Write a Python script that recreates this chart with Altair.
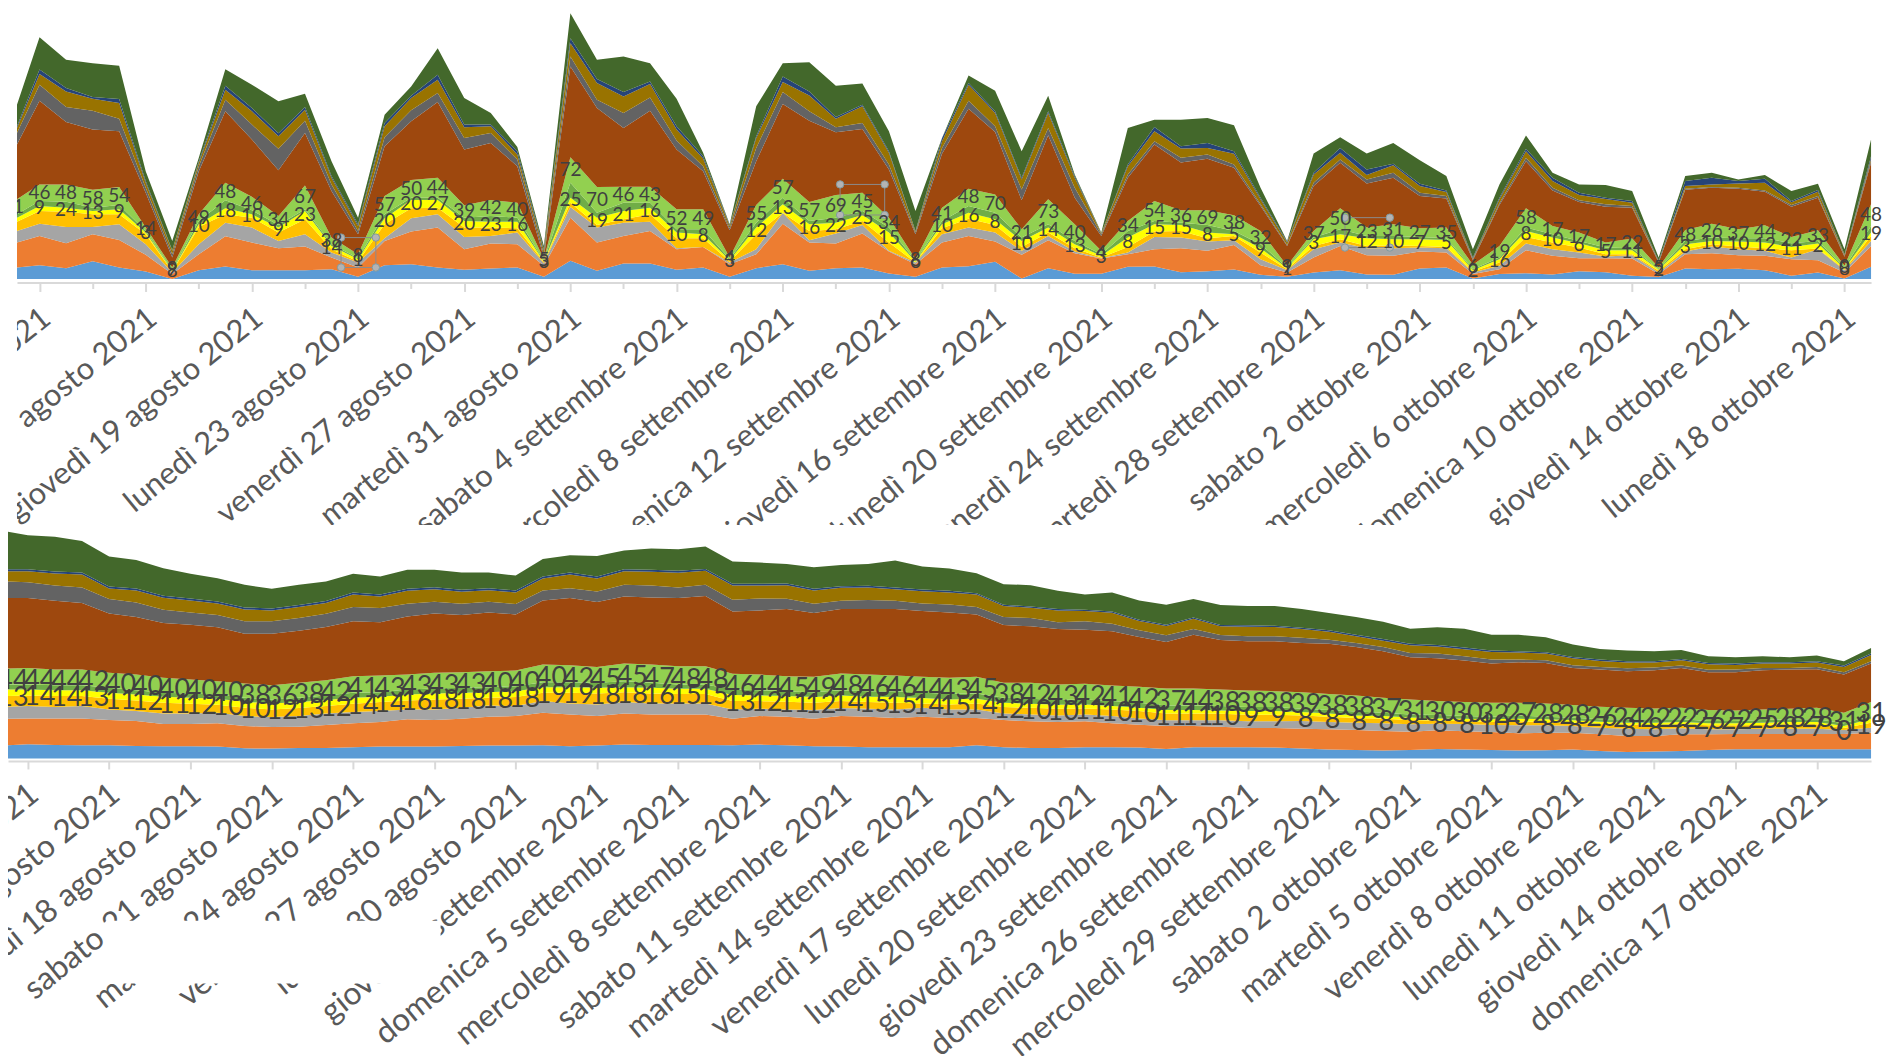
import json
import altair as alt
import pandas as pd

series = ["blue", "orange", "gray", "gold", "yellow", "green", "ltgreen", "brown", "dkgray", "dkgold", "navy", "dkgreen"]
colors = ["#5B9BD5", "#ED7D31", "#A5A5A5", "#FFC000", "#FFFF00", "#70AD47", "#92D050", "#9E480E", "#636363", "#997300", "#264478", "#43682B"]

# ---- upper chart: top edge of every band per day (3 units = 1 px)
top_days = [10.15] + list(range(11, 81))
top_base = 835
T_dkgreen = [310,107,175,185,193,510,720,470,203,250,300,277,480,650,340,255,140,290,335,437,735,35,175,165,
185,292,455,670,315,185,182,253,246,390,630,410,222,268,450,283,520,695,380,355,355,350,372,560,
720,457,408,457,425,477,525,745,550,403,515,550,552,570,770,525,515,535,522,570,548,745,415]
T_navy = [375,204,260,287,293,540,748,480,253,320,396,317,525,670,365,283,220,370,370,450,745,110,233,272,
240,375,465,672,405,225,270,347,310,450,690,410,245,330,530,330,525,697,490,377,435,425,450,590,
722,515,440,505,488,548,568,770,590,443,530,575,590,600,780,540,530,540,533,600,567,760,465]
T_dkgold = [380,218,270,292,305,545,750,485,265,330,405,325,530,675,375,290,235,378,375,460,750,125,245,285,
248,385,472,675,410,242,282,352,315,455,692,420,250,335,535,335,530,698,495,390,442,440,458,595,
725,520,455,522,492,555,573,773,595,450,540,582,594,605,782,555,550,547,545,604,572,762,473]
T_dkgray = [395,250,317,328,352,560,760,495,295,370,443,358,550,690,408,327,275,410,395,475,760,165,295,335,
288,418,495,682,440,272,330,378,365,490,695,440,298,375,565,380,560,700,520,420,470,460,490,610,
732,545,475,535,515,575,585,775,607,470,560,598,610,615,783,563,558,560,568,612,585,765,478]
T_brown = [430,298,362,385,390,575,770,510,330,415,507,395,570,700,435,360,302,445,425,495,770,195,320,380,
328,445,510,688,480,308,358,393,383,505,700,458,322,392,598,402,590,705,530,430,484,473,500,615,
735,555,485,547,530,585,592,778,612,480,568,603,617,620,785,566,560,563,572,617,590,768,485]
T_ltgreen = [595,550,550,566,558,680,800,640,545,587,645,553,710,760,585,537,530,613,597,605,775,468,558,557,
557,625,625,770,612,533,603,582,575,650,775,620,563,580,685,595,670,750,660,600,628,628,643,690,
795,690,622,680,670,682,680,792,735,622,675,695,725,713,800,687,668,685,673,708,688,795,610]
T_green = [640,600,602,620,612,690,808,660,598,628,672,625,730,772,640,590,590,650,645,650,780,545,635,605,
605,685,685,775,665,590,660,650,630,680,780,660,615,635,710,670,720,760,690,660,665,672,690,730,
800,710,685,705,705,708,712,805,770,680,700,720,740,742,805,720,710,712,712,727,720,800,675]
T_yellow = [650,615,620,630,625,695,810,670,622,640,680,630,735,775,652,597,597,660,662,662,782,590,650,630,
620,695,700,778,680,610,670,665,642,695,782,670,635,655,720,680,730,765,710,670,672,695,700,742,
802,715,700,712,715,715,717,808,775,690,710,727,748,748,807,730,720,722,725,738,728,803,695]
T_gold = [662,630,632,640,640,700,812,678,640,650,695,655,745,782,670,622,620,680,680,682,784,605,672,655,
640,712,712,782,700,635,690,685,660,725,785,682,653,672,738,695,742,770,738,692,690,712,705,755,
805,735,715,735,733,735,738,812,785,708,725,740,760,760,810,745,730,737,742,748,743,806,705]
T_gray = [690,668,678,678,670,730,815,730,665,680,720,700,755,785,712,652,640,708,705,695,787,618,680,665,
662,742,738,785,745,636,718,698,672,750,785,700,680,695,750,705,752,772,755,708,710,722,718,775,
808,745,725,742,742,740,742,815,795,728,745,755,767,763,815,752,737,745,750,770,745,808,720]
T_orange = [725,705,727,700,717,762,820,760,706,725,742,737,770,800,720,692,680,745,728,730,795,650,725,705,
690,745,738,790,760,668,725,728,698,752,790,725,705,722,762,718,757,773,760,745,742,750,732,793,
815,770,735,763,765,752,755,820,805,748,765,772,772,773,820,760,757,763,765,775,778,815,735]
T_blue = [800,793,802,781,800,812,835,808,797,808,808,808,805,828,793,790,800,807,803,800,828,780,810,788,
788,807,800,828,802,790,810,802,800,818,828,800,796,783,833,802,819,819,798,797,814,811,806,822,
828,815,808,821,822,803,800,833,820,817,821,811,814,825,829,803,805,804,808,825,815,833,798]
top_upper = [41,46,48,58,54,14,9,49,48,46,34,67,38,8,57,50,44,39,42,40,5,72,70,46,
43,52,49,4,55,57,57,69,45,34,8,41,48,70,21,73,40,4,34,54,36,69,38,32,
9,37,50,23,31,27,35,6,19,58,17,17,17,22,5,48,26,37,44,22,33,0,48]
top_lower = [7,9,24,13,9,3,8,10,18,10,9,23,14,1,20,20,27,20,23,16,3,25,19,21,
16,10,8,3,12,13,16,22,25,15,6,10,16,8,10,14,13,3,8,15,15,8,5,9,
1,3,17,12,10,7,5,2,16,8,10,6,5,11,2,3,10,10,12,11,2,8,19]
top_tick_days = list(range(11, 80, 2))
top_axis_labels = ["mercoledì 11 agosto 2021", "domenica 15 agosto 2021", "giovedì 19 agosto 2021", "lunedì 23 agosto 2021",
    "venerdì 27 agosto 2021", "martedì 31 agosto 2021", "sabato 4 settembre 2021", "mercoledì 8 settembre 2021",
    "domenica 12 settembre 2021", "giovedì 16 settembre 2021", "lunedì 20 settembre 2021", "venerdì 24 settembre 2021",
    "martedì 28 settembre 2021", "sabato 2 ottobre 2021", "mercoledì 6 ottobre 2021", "domenica 10 ottobre 2021",
    "giovedì 14 ottobre 2021", "lunedì 18 ottobre 2021"]

# Excel selection frames left in the picture: day from, day to, level from, level to
frames = [(22.36, 23.67, 35, 125), (41.16, 42.84, 193, 285), (60.18, 61.87, 95, 185)]

# ---- lower chart
bot_days = [11.27] + list(range(12, 81))
bot_base = 718
B_dkgreen = [35,46,50,63,110,120,145,162,175,195,207,195,185,162,170,150,150,158,158,167,117,106,108,92,
86,88,80,125,128,132,142,135,132,122,140,146,160,193,196,213,224,218,242,255,238,256,259,
259,268,280,292,306,327,323,327,345,345,353,375,388,393,395,391,410,413,410,413,408,425,385]
B_navy = [148,148,155,158,200,206,228,236,245,263,266,256,244,218,224,207,202,210,205,212,170,158,170,148,
150,153,147,192,192,191,207,199,198,203,209,213,220,255,260,268,270,275,300,315,293,316,317,
318,324,332,345,358,372,376,384,393,395,398,412,420,425,425,418,430,432,428,428,425,438,402]
B_dkgold = [154,154,161,164,206,212,234,242,251,269,272,262,250,224,230,213,208,216,211,218,176,164,176,154,
156,159,153,197,197,196,212,204,203,208,214,218,224,259,264,272,274,279,304,319,297,320,321,
322,328,336,350,363,377,381,389,397,399,402,416,424,429,429,422,434,436,432,432,429,442,406]
B_dkgray = [185,187,197,203,238,248,270,278,286,305,305,295,282,262,265,252,246,252,246,253,212,205,215,195,
197,203,195,240,236,237,252,243,241,243,251,254,262,292,295,308,305,312,332,347,328,346,350,
350,354,360,370,382,400,402,410,420,420,422,437,442,446,444,438,451,450,445,445,442,458,425]
B_brown = [235,235,243,250,281,292,310,315,323,342,342,333,322,305,308,290,281,286,278,284,242,235,247,230,
233,235,229,275,272,268,280,268,268,268,274,278,284,316,320,328,330,335,352,367,345,361,365,
365,370,372,382,395,413,416,423,432,428,430,445,450,455,452,445,458,458,452,450,449,465,432]
B_ltgreen = [447,445,450,450,460,465,475,480,485,492,497,490,482,470,468,465,460,458,455,453,435,437,442,432,
435,440,440,463,465,470,472,462,465,468,472,475,472,490,490,495,493,498,502,507,507,510,513,
515,518,524,528,535,540,545,548,550,550,552,557,562,565,567,565,572,573,570,568,565,580,548]
B_green = [495,495,497,497,505,512,520,522,525,535,540,535,528,520,518,510,507,505,503,500,488,488,490,485,
490,495,495,510,512,516,518,512,515,515,520,523,522,535,538,542,540,545,550,558,558,560,563,
563,568,572,576,580,585,587,590,592,588,592,595,600,600,600,600,605,605,602,600,600,612,590]
B_yellow = [510,510,512,512,520,525,532,535,538,547,552,548,542,535,532,525,522,520,518,515,503,503,505,503,
505,508,508,527,528,530,533,528,532,533,536,540,538,550,553,556,555,560,565,572,572,573,575,
575,578,582,588,590,594,597,598,600,598,600,603,607,610,610,608,612,612,610,608,608,620,598]
B_gold = [530,528,530,530,538,543,550,553,556,565,570,566,560,553,548,543,540,538,535,533,520,520,522,518,
522,524,524,545,545,547,550,545,548,550,552,555,552,563,565,568,567,570,575,582,582,583,586,
586,588,592,596,598,602,604,605,608,606,608,610,614,616,617,615,618,618,617,615,615,626,610]
B_gray = [562,560,563,560,570,575,582,582,580,590,593,590,582,578,575,570,570,565,558,560,545,552,555,548,
552,552,552,570,568,570,572,566,568,570,565,570,570,582,585,588,585,590,597,603,603,603,606,
606,605,608,610,612,615,613,614,617,618,618,620,625,628,630,627,630,630,628,628,628,632,625]
B_orange = [598,597,597,597,602,605,614,614,612,620,623,622,617,612,608,600,602,598,592,590,580,585,590,582,
585,585,585,598,590,592,598,590,592,596,592,596,596,602,606,608,606,612,616,620,620,622,626,
626,628,630,632,635,637,633,636,638,642,640,640,645,650,650,645,645,644,644,644,644,644,640]
B_blue = [678,675,677,678,678,680,681,681,682,687,688,686,686,684,682,682,682,680,679,679,678,681,679,676,
677,677,677,678,676,678,681,682,684,684,684,684,678,684,686,686,684,684,685,689,684,684,684,
685,688,691,692,694,692,689,691,692,694,693,691,695,698,697,695,692,690,690,690,690,690,690]
bot_upper = [44,44,44,42,40,40,40,40,40,38,36,38,42,41,43,43,43,43,40,40,40,42,45,45,
47,48,48,46,44,45,49,48,46,46,44,43,45,38,42,43,42,41,42,37,44,38,38,
38,39,38,38,37,31,30,30,32,27,28,28,26,24,22,22,26,22,25,28,28,31,31]
bot_lower = [13,14,14,13,11,12,11,12,10,10,12,13,12,14,14,16,18,18,18,18,19,19,18,18,
16,15,15,13,12,11,12,14,15,15,14,15,14,12,10,10,11,10,10,11,11,10,9,
9,8,8,8,8,8,8,8,10,9,8,8,7,8,8,6,7,7,7,8,7,0,19]
bot_tick_days = list(range(12, 79, 3))
bot_axis_labels = ["giovedì 12 agosto 2021", "domenica 15 agosto 2021", "mercoledì 18 agosto 2021", "sabato 21 agosto 2021",
    "martedì 24 agosto 2021", "venerdì 27 agosto 2021", "lunedì 30 agosto 2021", "giovedì 2 settembre 2021",
    "domenica 5 settembre 2021", "mercoledì 8 settembre 2021", "sabato 11 settembre 2021", "martedì 14 settembre 2021",
    "venerdì 17 settembre 2021", "lunedì 20 settembre 2021", "giovedì 23 settembre 2021", "domenica 26 settembre 2021",
    "mercoledì 29 settembre 2021", "sabato 2 ottobre 2021", "martedì 5 ottobre 2021", "venerdì 8 ottobre 2021",
    "lunedì 11 ottobre 2021", "giovedì 14 ottobre 2021", "domenica 17 ottobre 2021"]

W, H = 1884, 1048


def long_table(days, base, edges):
    rows = []
    for i, d in enumerate(days):
        prev = base
        for k, name in enumerate(series):
            cur = min(prev, edges[k][i])
            rows.append({"day": d, "series": name, "k": k, "v": prev - cur})
            prev = cur
    return pd.DataFrame(rows)


def label_table(days, base, edges, upper, lower, shift):
    up, lo = [], []
    for i, d in enumerate(days):
        x = d + shift * (80 - d) / 69
        up.append({"day": x, "t": str(upper[i]), "y": base - (edges[6][i] + edges[5][i]) / 2})
        lo.append({"day": x, "t": str(lower[i]), "y": base - (edges[4][i] + edges[3][i]) / 2})
    return pd.DataFrame(up + lo)


def axis(values, labels, step, first, offset, long_tick, short_tick, size, label_offset, padding):
    arr = json.dumps(labels, ensure_ascii=False)
    m = f"(datum.value - {first}) % {step} == 0"
    return alt.Axis(
        values=values, title=None, orient="bottom", offset=offset, grid=False,
        labelExpr=f"{m} ? {arr}[(datum.value - {first}) / {step}] : ''",
        labelAngle=-39, labelAlign="right", labelBaseline="middle",
        labelFont="Lato", labelFontSize=size, labelColor="#595959", labelLimit=2000,
        labelOverlap=False, labelFlush=False, labelBound=False,
        labelOffset=label_offset, labelPadding=padding,
        domainColor="#D9D9D9", domainWidth=2, tickColor="#D9D9D9", tickWidth=2,
        tickSize={"condition": {"test": m, "value": long_tick}, "value": short_tick},
    )


top_edges = [T_blue, T_orange, T_gray, T_gold, T_yellow, T_green, T_ltgreen, T_brown, T_dkgray, T_dkgold, T_navy, T_dkgreen]
bot_edges = [B_blue, B_orange, B_gray, B_gold, B_yellow, B_green, B_ltgreen, B_brown, B_dkgray, B_dkgold, B_navy, B_dkgreen]

color = alt.Color("series:N", scale=alt.Scale(domain=series, range=colors), legend=None)

top_x = alt.Scale(domain=[10.15, 80], range=[9, 1869], nice=False, zero=False)
top_y = alt.Scale(domain=[0, 811], range=[270.3, 0], nice=False, zero=False)
bot_x = alt.Scale(domain=[11.27, 80], range=[0, 1869], nice=False, zero=False)
bot_y = alt.Scale(domain=[0, 718], range=[751.3, 512], nice=False, zero=False)

top_area = alt.Chart(long_table(top_days, top_base, top_edges)).mark_area(interpolate="linear").encode(
    x=alt.X("day:Q", scale=top_x, axis=axis(top_tick_days, top_axis_labels, 4, 11, 273.7 - H, 9, 6, 31, 7, 23)),
    y=alt.Y("v:Q", stack="zero", scale=top_y, axis=None),
    color=color, order=alt.Order("k:Q"),
)
bot_area = alt.Chart(long_table(bot_days, bot_base, bot_edges)).mark_area(interpolate="linear").encode(
    x=alt.X("day:Q", scale=bot_x, axis=axis(bot_tick_days, bot_axis_labels, 3, 12, 753.7 - H, 8, 8, 32, 6, 21)),
    y=alt.Y("v:Q", stack="zero", scale=bot_y, axis=None),
    color=color, order=alt.Order("k:Q"),
)

top_text = alt.Chart(label_table([10] + list(range(11, 81)), top_base, top_edges, top_upper, top_lower, 0)).mark_text(
    font="Lato", fontSize=19, color="#404040").encode(
    x=alt.X("day:Q", scale=top_x, axis=None), y=alt.Y("y:Q", scale=top_y, axis=None), text="t:N")
bot_text = alt.Chart(label_table([11] + list(range(12, 81)), bot_base, bot_edges, bot_upper, bot_lower, 0.45)).mark_text(
    font="Lato", fontSize=27, color="#404040", dy=5).encode(
    x=alt.X("day:Q", scale=bot_x, axis=None), y=alt.Y("y:Q", scale=bot_y, axis=None), text="t:N")

frame_df = pd.DataFrame(frames, columns=["a", "b", "lo", "hi"])
frame_rect = alt.Chart(frame_df).mark_rect(fill=None, stroke="#8C8C8C", strokeWidth=1).encode(
    x=alt.X("a:Q", scale=top_x, axis=None), x2="b:Q",
    y=alt.Y("lo:Q", scale=top_y, axis=None), y2="hi:Q")
handle_df = pd.DataFrame(
    [{"d": f[p], "l": f[q]} for f in frames for p in (0, 1) for q in (2, 3)])
frame_dots = alt.Chart(handle_df).mark_point(filled=True, size=55, color="#B4B4B4", opacity=1, stroke="#7F9AA0", strokeWidth=1).encode(
    x=alt.X("d:Q", scale=top_x, axis=None), y=alt.Y("l:Q", scale=top_y, axis=None))


def mask(x0, x1, y0, y1):
    return alt.Chart(alt.Data(values=[{}])).mark_rect(color="white").encode(
        x=alt.value(x0), x2=alt.value(x1), y=alt.value(y0), y2=alt.value(y1))


chart = alt.layer(
    mask(0, W, 517, 752),       # lower end of the upper chart's labels is cut off in the picture
    mask(98, 434, 914, 977),    # blank patch over the lower chart's labels
    top_area, frame_rect, frame_dots, top_text,
    bot_area, bot_text,
    mask(0, 9, 0, 517),         # left edge of the upper chart is cropped
).resolve_scale(x="independent", y="independent").properties(
    width=W, height=H, padding=0, background="white",
    autosize=alt.AutoSizeParams(type="none"),
).configure_view(stroke=None)

chart.save("out.html", embed_options={"renderer": "svg", "actions": False})
